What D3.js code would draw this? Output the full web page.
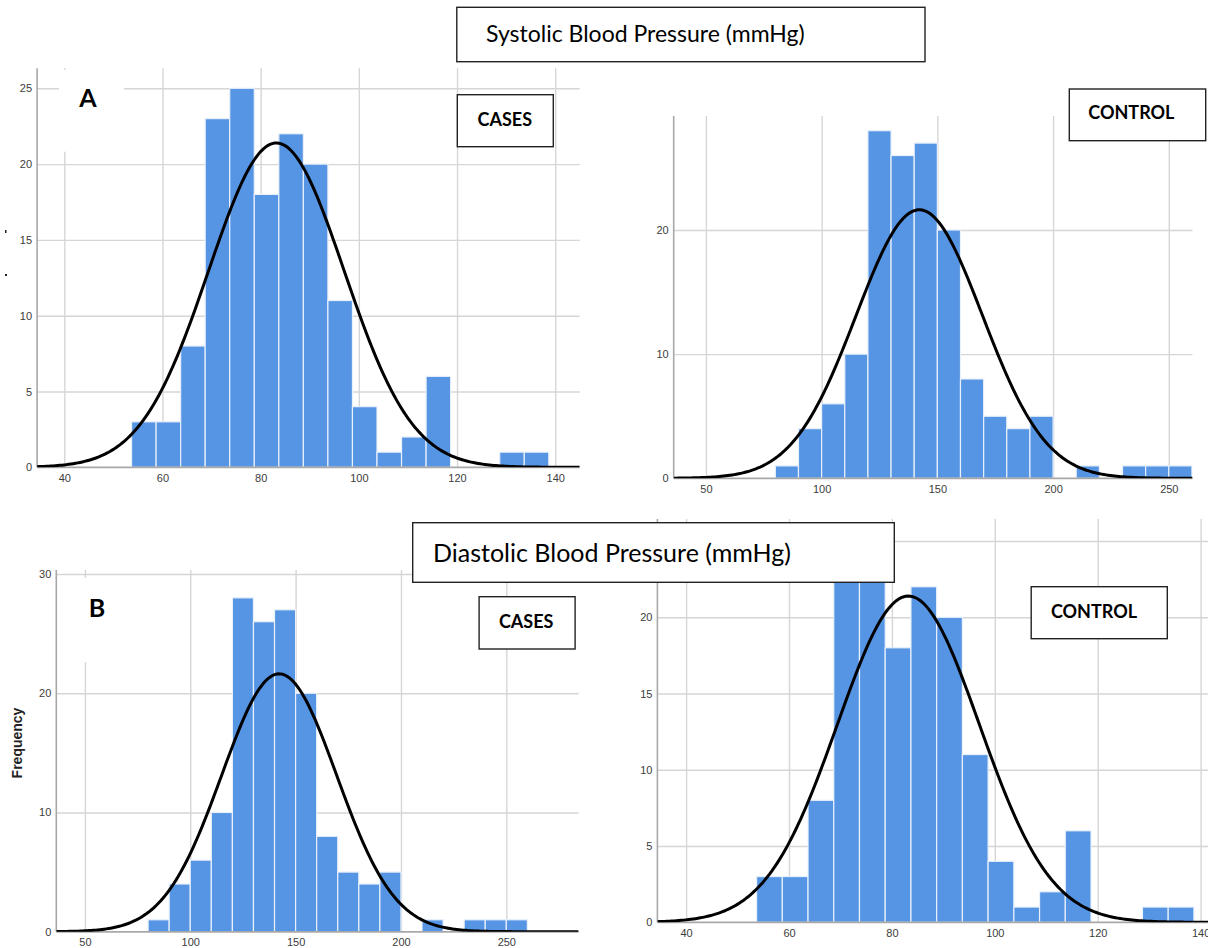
<!DOCTYPE html>
<html>
<head>
<meta charset="utf-8">
<script src="https://cdn.jsdelivr.net/npm/d3@7"></script>
<style>
  body { margin: 0; background: #fff; }
  svg { display: block; }
</style>
</head>
<body>
<script>
// Histogram data
// Panels A (cases) and D (control) share the same 5-unit bins
const binsSmall = [53.7, 58.7, 63.7, 68.7, 73.7, 78.7, 83.7, 88.7, 93.7, 98.7, 103.7, 108.7, 113.7, 118.7, 123.7, 128.7, 133.7];
const countsSmall = [3, 3, 8, 23, 25, 18, 22, 20, 11, 4, 1, 2, 6, 0, 0, 1, 1];
const binWidthSmall = 5;
const fitSmall = { mean: 83.2, sd: 13.8 };

// Panels B (control top) and C (cases bottom) share the 10-unit bins
const binsLarge = [80, 90, 100, 110, 120, 130, 140, 150, 160, 170, 180, 190, 200, 210, 220, 230, 240, 250];
const countsLarge = [1, 4, 6, 10, 28, 26, 27, 20, 8, 5, 4, 5, 0, 1, 0, 1, 1, 1];
const binWidthLarge = 10;
const fitLarge = { mean: 142.2, sd: 27.3 };

const ticksSmallX = [40, 60, 80, 100, 120, 140];
const ticksLargeX = [50, 100, 150, 200, 250];
const ticksY5 = [0, 5, 10, 15, 20, 25];
const ticksY10 = [0, 10, 20];
const ticksY10b = [0, 10, 20, 30];

const titleTop = "Systolic Blood Pressure (mmHg)";
const titleBottom = "Diastolic Blood Pressure (mmHg)";

const W = 1208, H = 948;
const barColor = "#5695e3";
const gridColor = "#d6d6d6";
const axisColor = "#a8a8a8";
const tickFont = "'Liberation Sans', Arial, sans-serif";
const labelFont = "Lato, 'Open Sans', sans-serif";

const svg = d3.select("body").append("svg")
    .attr("width", W)
    .attr("height", H);

function drawPanel(p, idx) {
    // Scales built from two reference ticks measured on the picture
    const x = d3.scaleLinear().domain(p.xd).range(p.xr);
    const y = d3.scaleLinear().domain(p.yd).range(p.yr);
    const g = svg.append("g");

    const clipId = "clip" + idx;
    svg.append("clipPath").attr("id", clipId)
        .append("rect")
        .attr("x", p.left).attr("y", p.top)
        .attr("width", p.right - p.left).attr("height", p.bottom - p.top);

    // Horizontal gridlines + y labels
    const yAxis = g.append("g")
        .attr("transform", `translate(${p.left},0)`)
        .call(d3.axisLeft(y).tickValues(p.yticks).tickSize(-(p.right - p.left)).tickPadding(5));
    yAxis.select(".domain").remove();
    yAxis.selectAll(".tick line").attr("stroke", gridColor).attr("stroke-width", 1.4);
    yAxis.selectAll(".tick").filter(d => y(d) < p.top - 1).remove();
    yAxis.selectAll(".tick text")
        .attr("fill", "#3c3c3c").attr("font-family", tickFont).attr("font-size", 11);
    // labels sitting behind a title box are not shown
    if (p.hideYLabelsAbove !== undefined) {
        yAxis.selectAll(".tick").filter(d => y(d) < p.hideYLabelsAbove).select("text").remove();
    }

    // Vertical gridlines + x labels
    const xAxis = g.append("g")
        .attr("transform", `translate(0,${p.bottom})`)
        .call(d3.axisBottom(x).tickValues(p.xticks).tickSize(-(p.bottom - p.top)).tickPadding(7));
    xAxis.select(".domain").remove();
    xAxis.selectAll(".tick line").attr("stroke", gridColor).attr("stroke-width", 1.4);
    xAxis.selectAll(".tick text")
        .attr("fill", "#3c3c3c").attr("font-family", tickFont).attr("font-size", 11);

    // White patch behind the panel letter
    if (p.patch) {
        g.append("rect")
            .attr("x", p.patch[0]).attr("y", p.patch[1])
            .attr("width", p.patch[2]).attr("height", p.patch[3])
            .attr("fill", "#fff");
    }

    // Bars
    const bars = p.bins.map((b, i) => ({ x0: b, x1: b + p.binWidth, n: p.counts[i] }))
        .filter(d => d.n > 0);
    g.append("g").attr("clip-path", `url(#${clipId})`)
        .selectAll("rect")
        .data(bars)
        .enter()
        .append("rect")
        .attr("x", d => x(d.x0))
        .attr("y", d => y(d.n))
        .attr("width", d => x(d.x1) - x(d.x0))
        .attr("height", d => y(0) - y(d.n))
        .attr("fill", barColor)
        .attr("stroke", "#e8f0fb")
        .attr("stroke-width", 1.2);

    // Axis lines
    g.append("line")
        .attr("x1", p.left).attr("x2", p.left)
        .attr("y1", p.top).attr("y2", p.bottom)
        .attr("stroke", axisColor).attr("stroke-width", 1.6);
    g.append("line")
        .attr("x1", p.left).attr("x2", p.right)
        .attr("y1", p.bottom).attr("y2", p.bottom)
        .attr("stroke", axisColor).attr("stroke-width", 1.6);

    // Fitted normal curve (SPSS style), scaled to counts
    const n = d3.sum(p.counts);
    const x0 = x.invert(p.left), x1 = x.invert(p.right);
    const pts = d3.range(0, 241).map(i => {
        const xv = x0 + (x1 - x0) * i / 240;
        const z = (xv - p.fit.mean) / p.fit.sd;
        return { x: xv, y: n * p.binWidth * Math.exp(-0.5 * z * z) / (p.fit.sd * Math.sqrt(2 * Math.PI)) };
    });
    g.append("path")
        .datum(pts)
        .attr("clip-path", `url(#${clipId})`)
        .attr("fill", "none")
        .attr("stroke", "#000")
        .attr("stroke-width", 3)
        .attr("d", d3.line().x(d => x(d.x)).y(d => y(d.y)));
}

const panels = [
    { bins: binsSmall, counts: countsSmall, binWidth: binWidthSmall, fit: fitSmall,
      xd: [40, 140], xr: [64.3, 555.2], yd: [0, 25], yr: [467.3, 88.3],
      left: 37.1, right: 579.7, top: 68.3, bottom: 467.3,
      xticks: ticksSmallX, yticks: ticksY5, patch: [59, 70, 65, 81.7] },
    { bins: binsLarge, counts: countsLarge, binWidth: binWidthLarge, fit: fitLarge,
      xd: [50, 250], xr: [705.9, 1168.8], yd: [0, 20], yr: [478.3, 230],
      left: 673.7, right: 1192.5, top: 116, bottom: 478.3,
      xticks: ticksLargeX, yticks: ticksY10 },
    { bins: binsLarge, counts: countsLarge, binWidth: binWidthLarge, fit: fitLarge,
      xd: [50, 250], xr: [84.9, 506.3], yd: [0, 30], yr: [931.7, 574],
      left: 56.3, right: 578.6, top: 570, bottom: 931.7,
      xticks: ticksLargeX, yticks: ticksY10b, patch: [62, 578, 70, 84.3] },
    { bins: binsSmall, counts: countsSmall, binWidth: binWidthSmall, fit: fitSmall,
      xd: [40, 140], xr: [686.1, 1200.6], yd: [0, 20], yr: [922.3, 617.3],
      left: 657.4, right: 1230, top: 519, bottom: 922.3,
      xticks: ticksSmallX, yticks: ticksY5, hideYLabelsAbove: 583 }
];
panels.forEach(drawPanel);

// Y label on panel C
svg.append("text")
    .attr("transform", "translate(22,743) rotate(-90)")
    .attr("text-anchor", "middle")
    .attr("font-family", tickFont)
    .attr("font-weight", "bold")
    .attr("font-size", 14)
    .attr("fill", "#222")
    .text("Frequency");

// Remnants of a cut-off label at the far left of panel A
svg.append("rect").attr("x", 5).attr("y", 230).attr("width", 1.5).attr("height", 3).attr("fill", "#222");
svg.append("rect").attr("x", 5).attr("y", 274).attr("width", 2).attr("height", 2).attr("fill", "#222");

// Panel letters
function letter(t, cx, by) {
    svg.append("text")
        .attr("x", cx).attr("y", by)
        .attr("text-anchor", "middle")
        .attr("font-family", labelFont)
        .attr("font-weight", "bold")
        .attr("font-size", 25)
        .attr("fill", "#000")
        .text(t);
}
letter("A", 88, 106.7);
letter("B", 97, 617.3);

// Group boxes
function boxLabel(t, x0, y0, x1, y1, cx, by, size, bold, anchor) {
    svg.append("rect")
        .attr("x", x0).attr("y", y0)
        .attr("width", x1 - x0).attr("height", y1 - y0)
        .attr("fill", "#fff")
        .attr("stroke", "#222")
        .attr("stroke-width", 1.4);
    svg.append("text")
        .attr("x", cx).attr("y", by)
        .attr("text-anchor", anchor || "middle")
        .attr("font-family", labelFont)
        .attr("font-weight", bold ? "bold" : "normal")
        .attr("font-size", size)
        .attr("fill", "#000")
        .text(t);
}
boxLabel("CASES", 457.3, 94.7, 553.3, 146.7, 504.8, 125.7, 18, true);
boxLabel("CONTROL", 1069.3, 89, 1205.7, 140.7, 1131.4, 119.3, 18, true);
boxLabel("CASES", 479.1, 596.7, 575.1, 649, 526.2, 627.7, 18, true);
boxLabel("CONTROL", 1031.2, 586.7, 1167.3, 638.7, 1094, 617.7, 18, true);

boxLabel(titleTop, 456.8, 7.3, 925, 61.7, 486, 41.7, 23, false, "start");
boxLabel(titleBottom, 412.7, 522.7, 894.3, 582.3, 433, 561.7, 25, false, "start");
</script>
</body>
</html>
